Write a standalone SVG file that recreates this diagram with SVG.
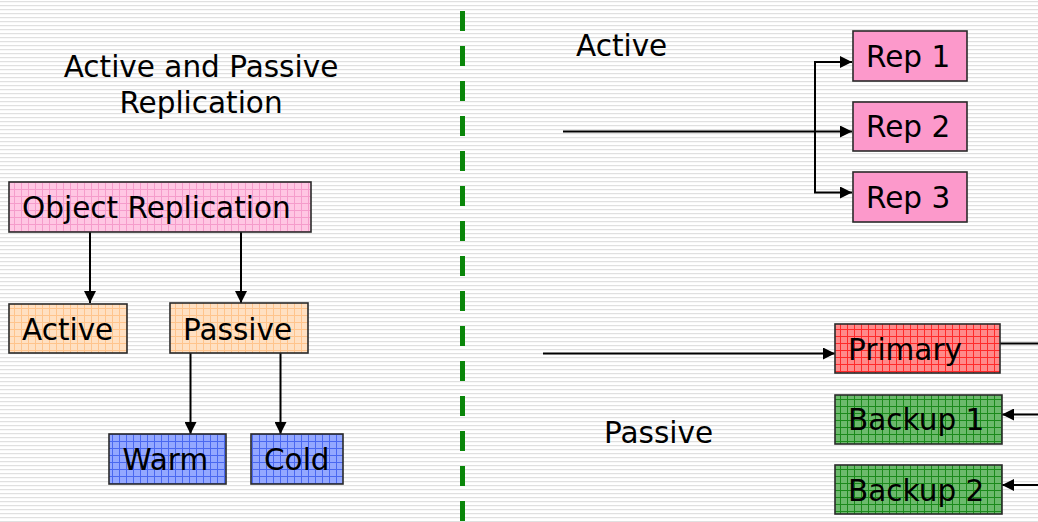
<svg xmlns="http://www.w3.org/2000/svg" width="1038" height="522" viewBox="0 0 1038 522">
  <defs>
    <pattern id="stripes" width="8" height="4" patternUnits="userSpaceOnUse">
      <rect width="8" height="4" fill="#ffffff"/>
      <rect y="1" width="8" height="1.2" fill="#e0e0e0"/>
    </pattern>
    <pattern id="gridPink" width="7" height="7" patternUnits="userSpaceOnUse">
      <rect width="7" height="7" fill="#ffc6e3"/>
      <path d="M0 0.5H7M0.5 0V7" stroke="#f59ccb" stroke-width="1"/>
    </pattern>
    <pattern id="gridOrange" width="7" height="7" patternUnits="userSpaceOnUse">
      <rect width="7" height="7" fill="#ffe0c2"/>
      <path d="M0 0.5H7M0.5 0V7" stroke="#ffc48c" stroke-width="1"/>
    </pattern>
    <pattern id="gridBlue" width="7" height="7" patternUnits="userSpaceOnUse">
      <rect width="7" height="7" fill="#94a8ff"/>
      <path d="M0 0.5H7M0.5 0V7" stroke="#4a68f0" stroke-width="1"/>
    </pattern>
    <pattern id="gridRed" width="7" height="7" patternUnits="userSpaceOnUse">
      <rect width="7" height="7" fill="#ff8a8a"/>
      <path d="M0 0.5H7M0.5 0V7" stroke="#ff2a2a" stroke-width="1"/>
    </pattern>
    <pattern id="gridGreen" width="7" height="7" patternUnits="userSpaceOnUse">
      <rect width="7" height="7" fill="#6cba6c"/>
      <path d="M0 0.5H7M0.5 0V7" stroke="#1b8a1b" stroke-width="1"/>
    </pattern>
    <marker id="arrow" viewBox="0 0 10 10" refX="10" refY="5" markerWidth="12" markerHeight="12" markerUnits="userSpaceOnUse" orient="auto">
      <path d="M0 0L10 5L0 10Z" fill="#000"/>
    </marker>
  </defs>
  <style>
    text { font-family: "DejaVu Sans", Verdana, sans-serif; font-size: 29.5px; fill: #000; }
    .box { stroke: #2a2a2a; stroke-width: 1.6; }
    .conn { stroke: #000; stroke-width: 2; fill: none; }
    .arr { marker-end: url(#arrow); }
  </style>

  <!-- striped background -->
  <rect width="1038" height="522" fill="url(#stripes)"/>

  <!-- divider -->
  <line x1="462.5" y1="11" x2="462.5" y2="522" stroke="#0a860a" stroke-width="5" stroke-dasharray="20 15"/>

  <!-- headings -->
  <text x="201" y="77" text-anchor="middle">Active and Passive</text>
  <text x="201" y="113" text-anchor="middle">Replication</text>
  <text x="576" y="56">Active</text>
  <text x="604" y="443">Passive</text>

  <!-- connectors -->
  <g id="connectors">
    <line class="conn arr" x1="90" y1="232" x2="90" y2="303"/>
    <line class="conn arr" x1="241" y1="232" x2="241" y2="303"/>
    <line class="conn arr" x1="190.5" y1="353" x2="190.5" y2="434"/>
    <line class="conn arr" x1="280.5" y1="353" x2="280.5" y2="434"/>

    <line class="conn arr" x1="563" y1="131.5" x2="852" y2="131.5"/>
    <path class="conn" d="M815 193V62"/>
    <line class="conn arr" x1="814" y1="62" x2="852" y2="62"/>
    <line class="conn arr" x1="814" y1="192.5" x2="852" y2="192.5"/>

    <line class="conn arr" x1="543" y1="353.5" x2="835" y2="353.5"/>
    <line class="conn" x1="996" y1="343.5" x2="1038" y2="343.5"/>
    <line class="conn arr" x1="1038" y1="414.5" x2="1002" y2="414.5"/>
    <line class="conn arr" x1="1038" y1="485" x2="1002" y2="485"/>
  </g>

  <!-- left tree -->
  <g id="object-replication">
    <rect class="box" x="9" y="182" width="302" height="50" fill="url(#gridPink)"/>
    <text x="22" y="218">Object Replication</text>
  </g>
  <g id="active">
    <rect class="box" x="9" y="304" width="118" height="49" fill="url(#gridOrange)"/>
    <text x="22" y="340">Active</text>
  </g>
  <g id="passive">
    <rect class="box" x="170" y="303" width="138" height="50" fill="url(#gridOrange)"/>
    <text x="183" y="340">Passive</text>
  </g>
  <g id="warm">
    <rect class="box" x="109" y="434" width="117" height="50" fill="url(#gridBlue)"/>
    <text x="122.5" y="470">Warm</text>
  </g>
  <g id="cold">
    <rect class="box" x="251" y="434" width="92" height="50" fill="url(#gridBlue)"/>
    <text x="264" y="470">Cold</text>
  </g>

  <!-- active replicas -->
  <g id="rep1">
    <rect class="box" x="853" y="31" width="114" height="50" fill="#fc99cb"/>
    <text x="866" y="67">Rep 1</text>
  </g>
  <g id="rep2">
    <rect class="box" x="853" y="102" width="114" height="49" fill="#fc99cb"/>
    <text x="866" y="137">Rep 2</text>
  </g>
  <g id="rep3">
    <rect class="box" x="853" y="172" width="114" height="50" fill="#fc99cb"/>
    <text x="866" y="208">Rep 3</text>
  </g>

  <!-- passive replicas -->
  <g id="primary">
    <rect class="box" x="835" y="324" width="165" height="49" fill="url(#gridRed)"/>
    <text x="848" y="360">Primary</text>
  </g>
  <g id="backup1">
    <rect class="box" x="835" y="395" width="167" height="49" fill="url(#gridGreen)"/>
    <text x="848" y="430">Backup 1</text>
  </g>
  <g id="backup2">
    <rect class="box" x="835" y="465" width="167" height="49" fill="url(#gridGreen)"/>
    <text x="848" y="501">Backup 2</text>
  </g>
</svg>
